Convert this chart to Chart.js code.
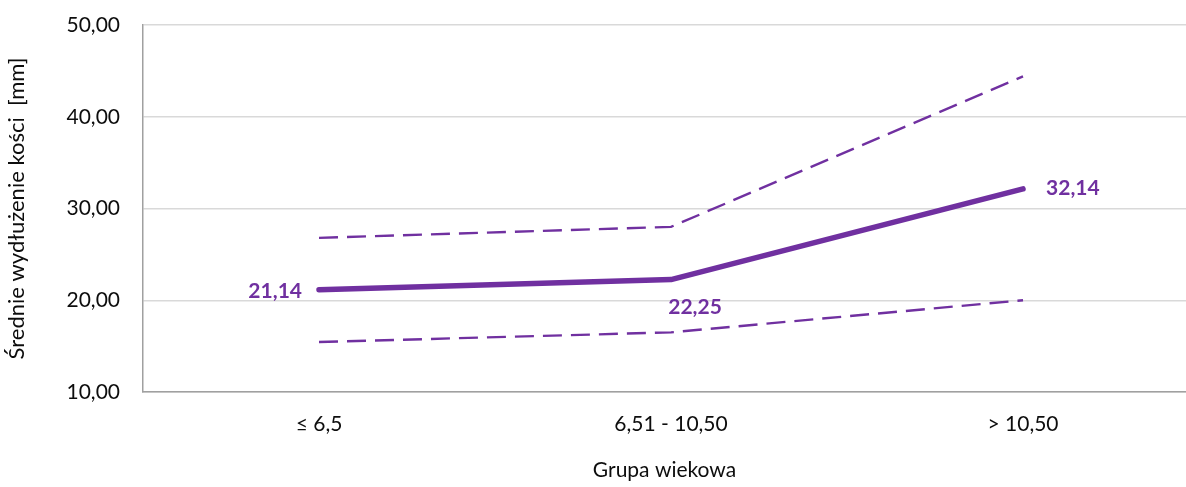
<!DOCTYPE html>
<html>
<head>
<meta charset="utf-8">
<script src="https://cdn.jsdelivr.net/npm/chart.js@4/dist/chart.umd.min.js"></script>
<style>
  html, body { margin: 0; padding: 0; background: #fff; overflow: hidden; }
  #wrap { width: 1186px; height: 487px; position: relative; }
</style>
</head>
<body>
<div id="wrap"><canvas id="c" width="1186" height="487"></canvas></div>
<script>
// Age groups along the x axis
const categories = ['≤ 6,5', '6,51 - 10,50', '> 10,50'];
// Mean bone lengthening [mm] and the band around it
const meanValues  = [21.14, 22.25, 32.14];
const upperValues = [26.8, 28.0, 44.4];
const lowerValues = [15.45, 16.5, 20.0];
// Value axis ticks
const yTicks = [10, 20, 30, 40, 50];

const PURPLE = '#7030A0';
const TEXT = '#0d0d0d';
const FONT = 'Lato, "Open Sans", sans-serif';

const fmt = v => v.toFixed(2).replace('.', ',');

const toPoints = arr => arr.map((v, i) => ({ x: i, y: v }));

// Value labels beside the mean line points: [align, dx, dy]
const labelPlacement = [
  ['right', -17, 1],
  ['center', 24, 28],
  ['left', 23, -1]
];

const valueLabels = {
  id: 'valueLabels',
  afterDatasetsDraw(chart) {
    const meta = chart.getDatasetMeta(0);
    const ctx = chart.ctx;
    ctx.save();
    ctx.font = 'bold 21px ' + FONT;
    ctx.fillStyle = PURPLE;
    ctx.textBaseline = 'middle';
    meta.data.forEach((pt, i) => {
      const [align, dx, dy] = labelPlacement[i];
      ctx.textAlign = align;
      ctx.fillText(fmt(meanValues[i]), pt.x + dx, pt.y + dy);
    });
    ctx.restore();
  }
};

new Chart(document.getElementById('c'), {
  type: 'line',
  data: {
    datasets: [
      {
        data: toPoints(meanValues),
        borderColor: PURPLE,
        borderWidth: 5.5,
        borderCapStyle: 'round',
        borderJoinStyle: 'round',
        pointRadius: 0,
        tension: 0
      },
      {
        data: toPoints(upperValues),
        borderColor: PURPLE,
        borderWidth: 2.4,
        borderDash: [19, 9],
        pointRadius: 0,
        tension: 0
      },
      {
        data: toPoints(lowerValues),
        borderColor: PURPLE,
        borderWidth: 2.4,
        borderDash: [19, 9],
        pointRadius: 0,
        tension: 0
      }
    ]
  },
  options: {
    responsive: false,
    animation: false,
    layout: { padding: { top: 25, right: 0, bottom: 0, left: 0 } },
    plugins: {
      legend: { display: false },
      tooltip: { enabled: false }
    },
    scales: {
      x: {
        type: 'linear',
        min: -0.5,
        max: 2.463,
        afterBuildTicks(scale) {
          scale.ticks = categories.map((_, i) => ({ value: i }));
        },
        afterFit(scale) { scale.height = 95; },
        grid: { display: false, drawTicks: false },
        border: { display: true, color: '#a0a0a0', width: 1.5 },
        ticks: {
          padding: 20,
          autoSkip: false,
          maxRotation: 0,
          color: TEXT,
          font: { family: FONT, size: 21 },
          callback: v => categories[v] ?? ''
        },
        title: {
          display: true,
          text: 'Grupa wiekowa',
          color: TEXT,
          font: { family: FONT, size: 21 },
          padding: { top: 0, bottom: 4 }
        }
      },
      y: {
        min: 10,
        max: 50,
        afterBuildTicks(scale) {
          scale.ticks = yTicks.map(v => ({ value: v }));
        },
        afterFit(scale) {
          scale.width = 143;
          // keep the plot top fixed by the layout padding alone
          scale.paddingTop = 0;
          scale.paddingBottom = 0;
        },
        grid: { color: '#d9d9d9', lineWidth: 1.5, drawTicks: false },
        border: { display: true, color: '#a0a0a0', width: 1.5 },
        ticks: {
          padding: 23,
          color: TEXT,
          font: { family: FONT, size: 21 },
          callback: v => fmt(v)
        },
        title: {
          display: true,
          text: 'Średnie wydłużenie kości  [mm]',
          color: TEXT,
          font: { family: FONT, size: 22 },
          padding: { top: 4, bottom: 0 }
        }
      }
    }
  },
  plugins: [valueLabels]
});
</script>
</body>
</html>
